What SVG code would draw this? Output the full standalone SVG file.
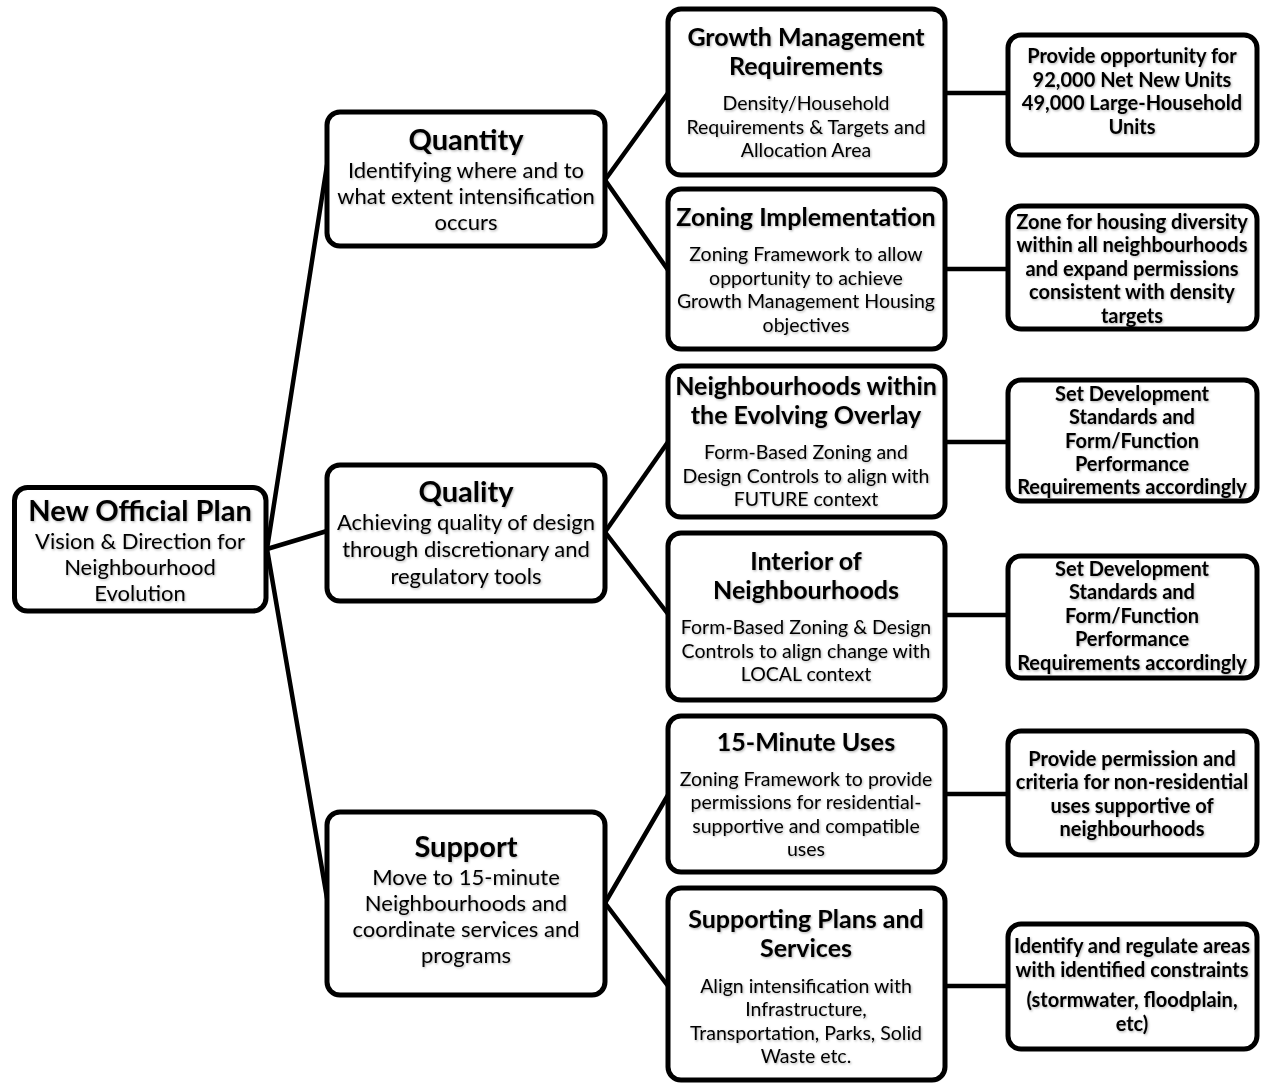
<svg xmlns="http://www.w3.org/2000/svg" width="1263" height="1084" viewBox="0 0 1263 1084">
<defs>
<filter id="sh" x="-5%" y="-20%" width="110%" height="140%">
<feDropShadow dx="1" dy="1.2" stdDeviation="0.9" flood-color="#000" flood-opacity="0.3"/>
</filter>
</defs>
<style>
.box{fill:#fff;stroke:#000;stroke-width:5}
.con line{stroke:#000;stroke-width:4.5;stroke-linecap:round}
text{font-family:Lato,"Liberation Sans",sans-serif;text-anchor:middle;fill:#000}
.txt{filter:url(#sh)}
.t1{font-size:29px;font-weight:bold}
.s1{font-size:22px}
.t2{font-size:25px;font-weight:bold}
.s2{font-size:19.5px}
.r{font-size:20px;font-weight:bold}
</style>
<rect width="1263" height="1084" fill="#fff"/>
<g id="connectors" class="con">
<line x1="267" y1="549" x2="327" y2="165"/>
<line x1="267" y1="549" x2="327" y2="531"/>
<line x1="267" y1="549" x2="327" y2="898"/>
<line x1="605" y1="180" x2="668" y2="93"/>
<line x1="605" y1="180" x2="668" y2="270"/>
<line x1="605" y1="532" x2="668" y2="442"/>
<line x1="605" y1="532" x2="668" y2="614"/>
<line x1="605" y1="903" x2="668" y2="795"/>
<line x1="605" y1="903" x2="668" y2="986"/>
<line x1="945" y1="93" x2="1008" y2="93"/>
<line x1="945" y1="269" x2="1008" y2="269"/>
<line x1="945" y1="442" x2="1008" y2="442"/>
<line x1="945" y1="615" x2="1008" y2="615"/>
<line x1="945" y1="794" x2="1008" y2="794"/>
<line x1="945" y1="986" x2="1008" y2="986"/>
</g>
<g id="root">
<rect class="box" x="14.5" y="487.5" width="251.5" height="123.5" rx="13"/>
<g class="txt">
<text class="t1" x="140" y="521">New Official Plan</text>
<text class="s1" x="140" y="549">Vision &amp; Direction for</text>
<text class="s1" x="140" y="575">Neighbourhood</text>
<text class="s1" x="140" y="601">Evolution</text>
</g>
</g>
<g id="quantity">
<rect class="box" x="327" y="112" width="278" height="134" rx="13"/>
<g class="txt">
<text class="t1" x="466" y="150">Quantity</text>
<text class="s1" x="466" y="178">Identifying where and to</text>
<text class="s1" x="466" y="204">what extent intensification</text>
<text class="s1" x="466" y="230">occurs</text>
</g>
</g>
<g id="quality">
<rect class="box" x="327" y="465" width="278" height="136" rx="13"/>
<g class="txt">
<text class="t1" x="466" y="502">Quality</text>
<text class="s1" x="466" y="530">Achieving quality of design</text>
<text class="s1" x="466" y="557">through discretionary and</text>
<text class="s1" x="466" y="584">regulatory tools</text>
</g>
</g>
<g id="support">
<rect class="box" x="327" y="812" width="278" height="183" rx="13"/>
<g class="txt">
<text class="t1" x="466" y="857">Support</text>
<text class="s1" x="466" y="885">Move to 15-minute</text>
<text class="s1" x="466" y="911">Neighbourhoods and</text>
<text class="s1" x="466" y="937">coordinate services and</text>
<text class="s1" x="466" y="963">programs</text>
</g>
</g>
<g id="growth">
<rect class="box" x="668" y="9" width="277" height="166" rx="13"/>
<g class="txt">
<text class="t2" x="806" y="46">Growth Management</text>
<text class="t2" x="806" y="75">Requirements</text>
<text class="s2" x="806" y="110">Density/Household</text>
<text class="s2" x="806" y="134">Requirements &amp; Targets and</text>
<text class="s2" x="806" y="157">Allocation Area</text>
</g>
</g>
<g id="zoning">
<rect class="box" x="668" y="189" width="277" height="160" rx="13"/>
<g class="txt">
<text class="t2" x="806" y="226">Zoning Implementation</text>
<text class="s2" x="806" y="261">Zoning Framework to allow</text>
<text class="s2" x="806" y="285">opportunity to achieve</text>
<text class="s2" x="806" y="308">Growth Management Housing</text>
<text class="s2" x="806" y="332">objectives</text>
</g>
</g>
<g id="evolving">
<rect class="box" x="668" y="366" width="277" height="151" rx="13"/>
<g class="txt">
<text class="t2" x="806" y="395">Neighbourhoods within</text>
<text class="t2" x="806" y="424">the Evolving Overlay</text>
<text class="s2" x="806" y="459">Form-Based Zoning and</text>
<text class="s2" x="806" y="483">Design Controls to align with</text>
<text class="s2" x="806" y="506">FUTURE context</text>
</g>
</g>
<g id="interior">
<rect class="box" x="668" y="533" width="277" height="167" rx="13"/>
<g class="txt">
<text class="t2" x="806" y="570">Interior of</text>
<text class="t2" x="806" y="599">Neighbourhoods</text>
<text class="s2" x="806" y="634">Form-Based Zoning &amp; Design</text>
<text class="s2" x="806" y="658">Controls to align change with</text>
<text class="s2" x="806" y="681">LOCAL context</text>
</g>
</g>
<g id="fifteen">
<rect class="box" x="668" y="716" width="277" height="156" rx="13"/>
<g class="txt">
<text class="t2" x="806" y="751">15-Minute Uses</text>
<text class="s2" x="806" y="786">Zoning Framework to provide</text>
<text class="s2" x="806" y="809">permissions for residential-</text>
<text class="s2" x="806" y="833">supportive and compatible</text>
<text class="s2" x="806" y="856">uses</text>
</g>
</g>
<g id="supporting">
<rect class="box" x="668" y="888" width="277" height="192" rx="13"/>
<g class="txt">
<text class="t2" x="806" y="928">Supporting Plans and</text>
<text class="t2" x="806" y="957">Services</text>
<text class="s2" x="806" y="993">Align intensification with</text>
<text class="s2" x="806" y="1016">Infrastructure,</text>
<text class="s2" x="806" y="1040">Transportation, Parks, Solid</text>
<text class="s2" x="806" y="1063">Waste etc.</text>
</g>
</g>
<g id="units">
<rect class="box" x="1008" y="35" width="249" height="120" rx="13"/>
<g class="txt">
<text class="r" x="1132" y="63">Provide opportunity for</text>
<text class="r" x="1132" y="87">92,000 Net New Units</text>
<text class="r" x="1132" y="110">49,000 Large-Household</text>
<text class="r" x="1132" y="134">Units</text>
</g>
</g>
<g id="diversity">
<rect class="box" x="1008" y="206" width="249" height="123" rx="13"/>
<g class="txt">
<text class="r" x="1132" y="229">Zone for housing diversity</text>
<text class="r" x="1132" y="252">within all neighbourhoods</text>
<text class="r" x="1132" y="276">and expand permissions</text>
<text class="r" x="1132" y="299">consistent with density</text>
<text class="r" x="1132" y="323">targets</text>
</g>
</g>
<g id="standards1">
<rect class="box" x="1008" y="380" width="249" height="121" rx="13"/>
<g class="txt">
<text class="r" x="1132" y="401">Set Development</text>
<text class="r" x="1132" y="424">Standards and</text>
<text class="r" x="1132" y="448">Form/Function</text>
<text class="r" x="1132" y="471">Performance</text>
<text class="r" x="1132" y="494">Requirements accordingly</text>
</g>
</g>
<g id="standards2">
<rect class="box" x="1008" y="556" width="249" height="122" rx="13"/>
<g class="txt">
<text class="r" x="1132" y="576">Set Development</text>
<text class="r" x="1132" y="599">Standards and</text>
<text class="r" x="1132" y="623">Form/Function</text>
<text class="r" x="1132" y="646">Performance</text>
<text class="r" x="1132" y="670">Requirements accordingly</text>
</g>
</g>
<g id="permission">
<rect class="box" x="1008" y="731" width="249" height="124" rx="13"/>
<g class="txt">
<text class="r" x="1132" y="766">Provide permission and</text>
<text class="r" x="1132" y="789">criteria for non-residential</text>
<text class="r" x="1132" y="813">uses supportive of</text>
<text class="r" x="1132" y="836">neighbourhoods</text>
</g>
</g>
<g id="constraints">
<rect class="box" x="1008" y="924" width="249" height="125" rx="13"/>
<g class="txt">
<text class="r" x="1132" y="953">Identify and regulate areas</text>
<text class="r" x="1132" y="977">with identified constraints</text>
<text class="r" x="1132" y="1007">(stormwater, floodplain,</text>
<text class="r" x="1132" y="1031">etc)</text>
</g>
</g>
</svg>
